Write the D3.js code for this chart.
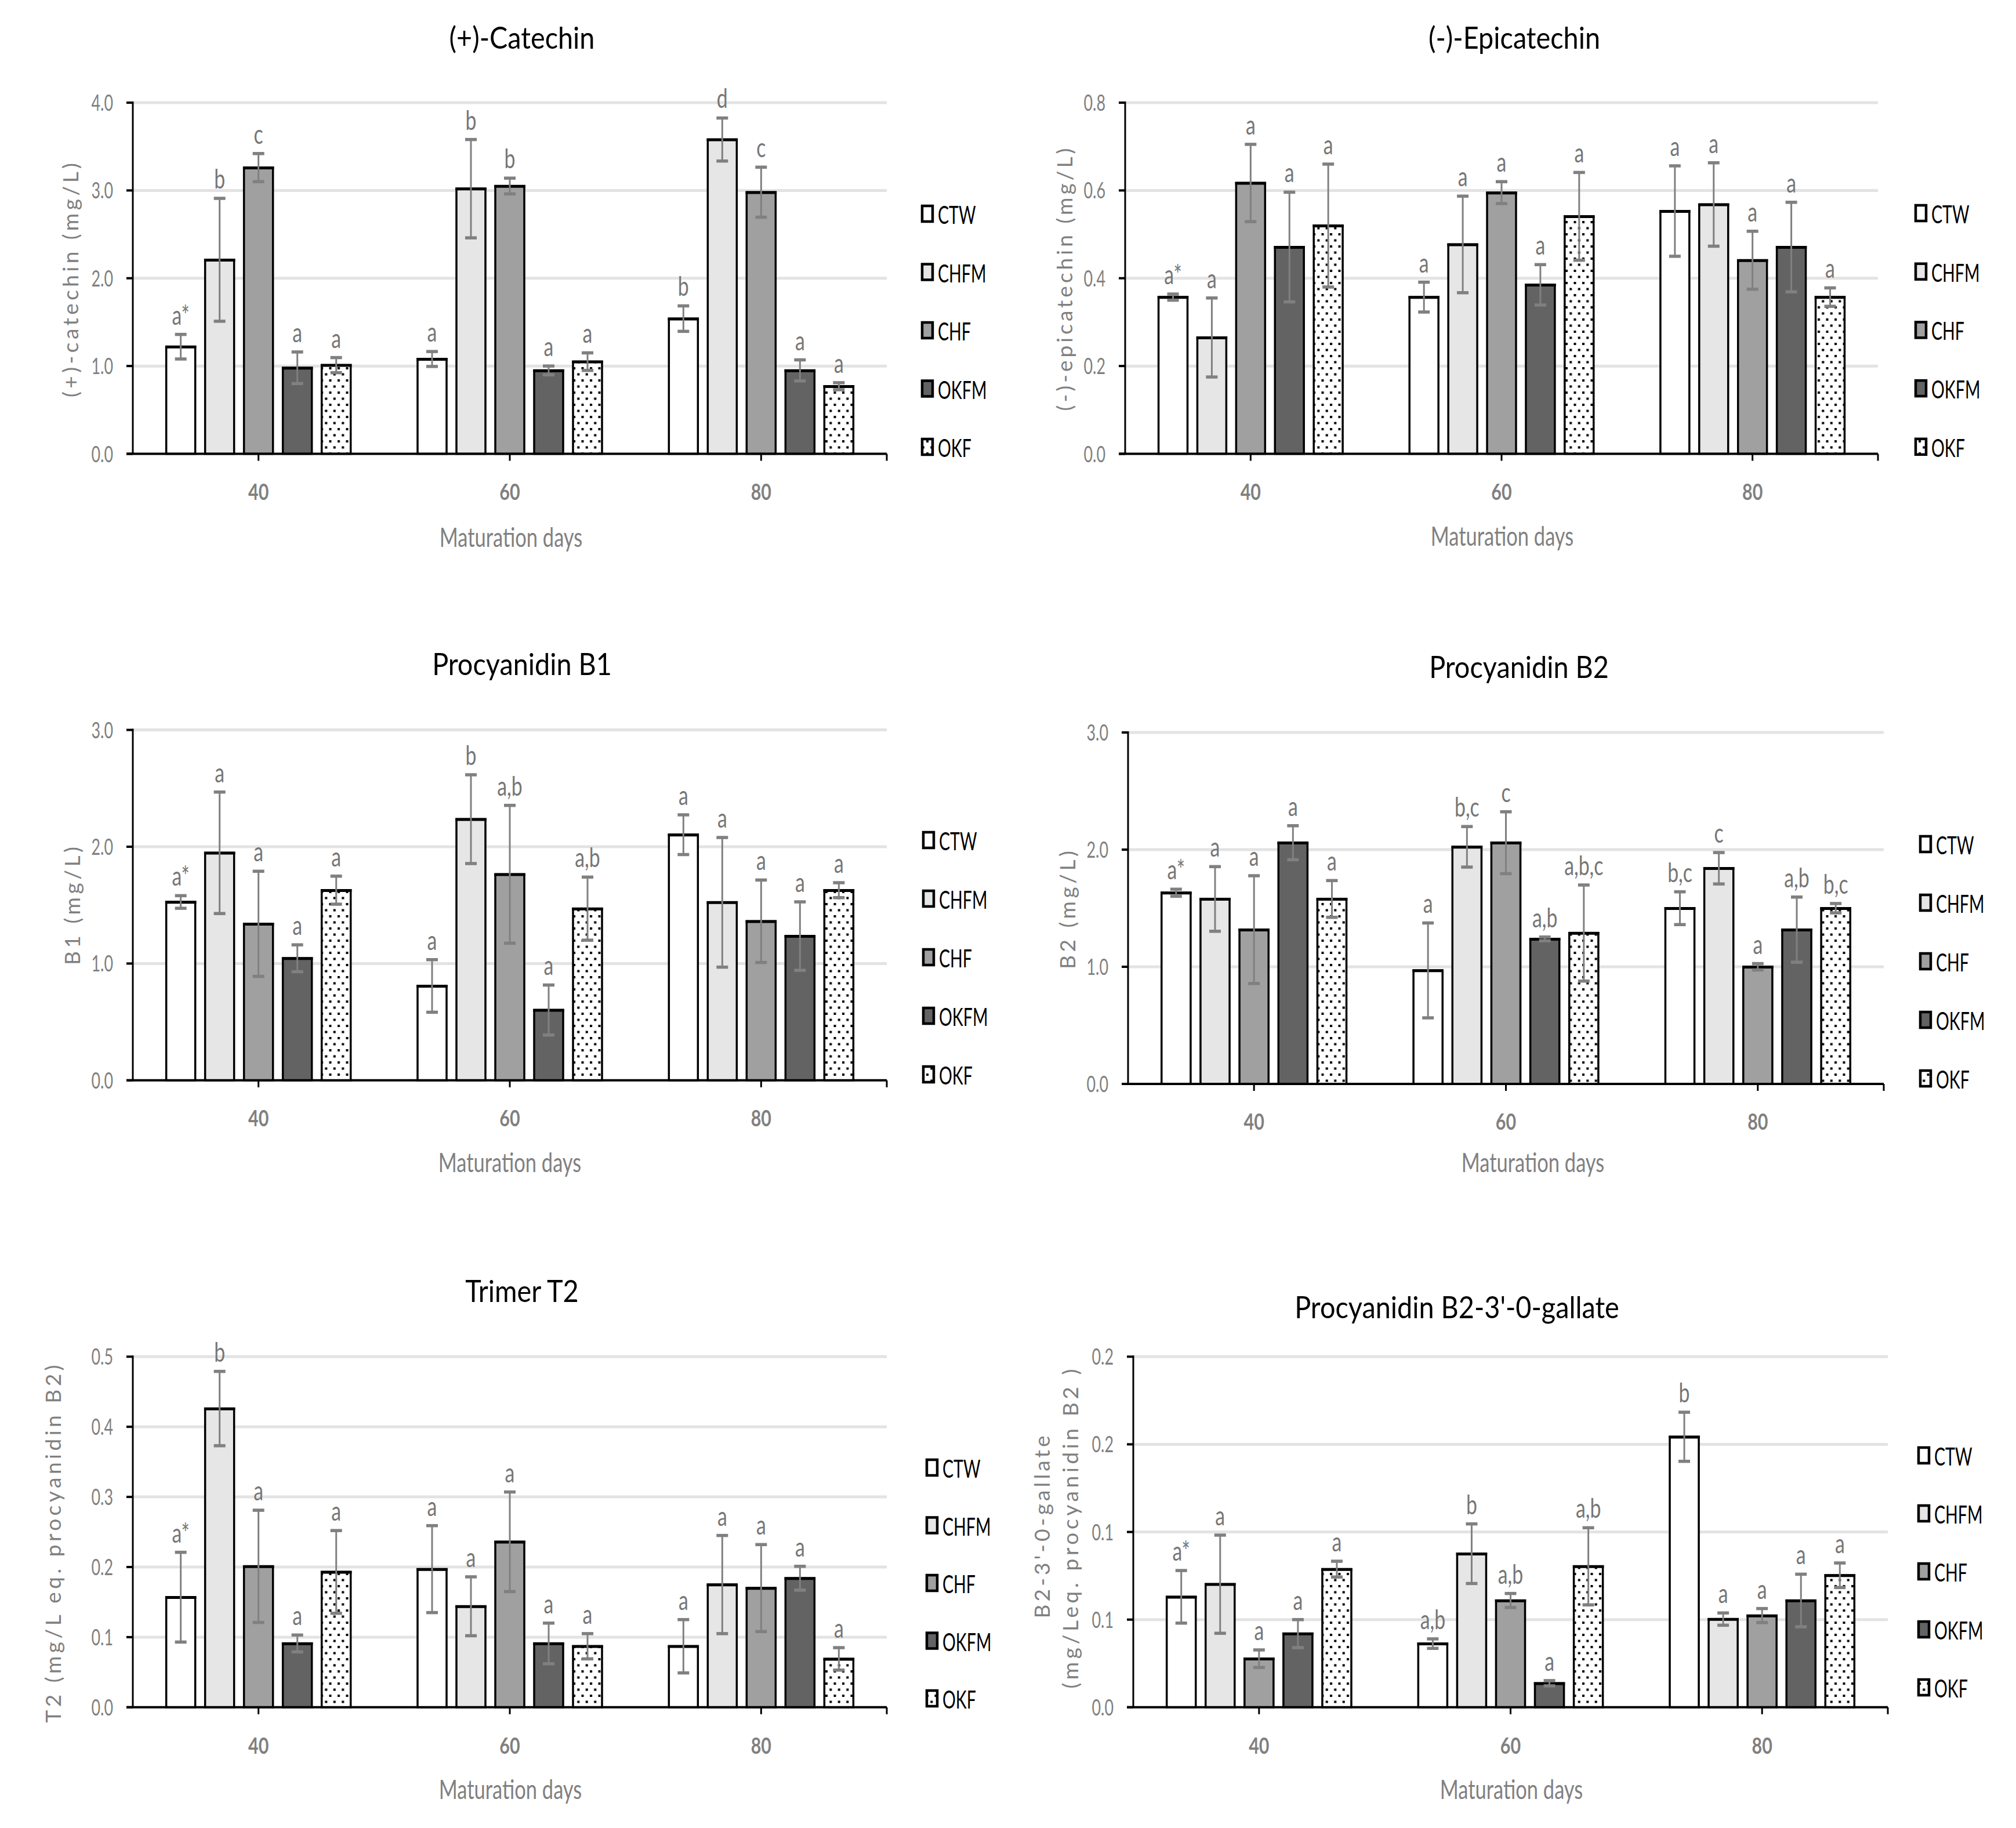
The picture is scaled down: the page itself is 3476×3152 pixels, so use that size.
<!DOCTYPE html>
<html><head><meta charset="utf-8">
<script src="https://cdn.jsdelivr.net/npm/d3@7/dist/d3.min.js"></script>
<style>body{margin:0;background:#fff} svg{display:block}</style>
</head><body>
<svg id="chart" width="3476" height="3152"></svg>
<script>
// ---------------- DATA ----------------
const categories = ["40", "60", "80"];
const seriesNames = ["CTW", "CHFM", "CHF", "OKFM", "OKF"];

// (+)-Catechin  [day][series]
const catechinMean = [[1.22, 2.21, 3.26, 0.98, 1.01], [1.08, 3.02, 3.05, 0.95, 1.05], [1.54, 3.58, 2.98, 0.95, 0.77]];
const catechinErr  = [[0.14, 0.70, 0.16, 0.18, 0.086], [0.085, 0.56, 0.09, 0.05, 0.10], [0.145, 0.245, 0.285, 0.12, 0.04]];
const catechinLetters = [["a*", "b", "c", "a", "a"], ["a", "b", "b", "a", "a"], ["b", "d", "c", "a", "a"]];
const catechinTicks = ["0.0", "1.0", "2.0", "3.0", "4.0"];

// (-)-Epicatechin
const epicatechinMean = [[0.357, 0.265, 0.617, 0.471, 0.52], [0.357, 0.477, 0.595, 0.385, 0.541], [0.553, 0.568, 0.441, 0.471, 0.357]];
const epicatechinErr  = [[0.007, 0.09, 0.088, 0.125, 0.14], [0.034, 0.11, 0.025, 0.046, 0.10], [0.103, 0.095, 0.066, 0.102, 0.021]];
const epicatechinLetters = [["a*", "a", "a", "a", "a"], ["a", "a", "a", "a", "a"], ["a", "a", "a", "a", "a"]];
const epicatechinTicks = ["0.0", "0.2", "0.4", "0.6", "0.8"];

// Procyanidin B1
const b1Mean = [[1.527, 1.948, 1.34, 1.045, 1.628], [0.808, 2.236, 1.764, 0.602, 1.47], [2.103, 1.524, 1.362, 1.235, 1.628]];
const b1Err  = [[0.054, 0.52, 0.45, 0.115, 0.12], [0.225, 0.38, 0.59, 0.214, 0.27], [0.17, 0.555, 0.353, 0.293, 0.064]];
const b1Letters = [["a*", "a", "a", "a", "a"], ["a", "b", "a,b", "a", "a,b"], ["a", "a", "a", "a", "a"]];
const b1Ticks = ["0.0", "1.0", "2.0", "3.0"];

// Procyanidin B2
const b2Mean = [[1.632, 1.579, 1.317, 2.059, 1.579], [0.969, 2.024, 2.059, 1.238, 1.288], [1.5, 1.841, 1.0, 1.317, 1.5]];
const b2Err  = [[0.03, 0.276, 0.46, 0.145, 0.157], [0.405, 0.173, 0.264, 0.016, 0.41], [0.14, 0.134, 0.027, 0.278, 0.04]];
const b2Letters = [["a*", "a", "a", "a", "a"], ["a", "b,c", "c", "a,b", "a,b,c"], ["b,c", "c", "a", "a,b", "b,c"]];
const b2Ticks = ["0.0", "1.0", "2.0", "3.0"];

// Trimer T2
const t2Mean = [[0.157, 0.426, 0.201, 0.091, 0.193], [0.197, 0.144, 0.236, 0.091, 0.087], [0.087, 0.175, 0.170, 0.184, 0.069]];
const t2Err  = [[0.064, 0.053, 0.08, 0.012, 0.059], [0.062, 0.042, 0.071, 0.029, 0.018], [0.038, 0.07, 0.062, 0.017, 0.016]];
const t2Letters = [["a*", "b", "a", "a", "a"], ["a", "a", "a", "a", "a"], ["a", "a", "a", "a", "a"]];
const t2Ticks = ["0.0", "0.1", "0.2", "0.3", "0.4", "0.5"];

// Procyanidin B2-3'-O-gallate
const b2gMean = [[0.063, 0.0702, 0.0277, 0.042, 0.0788], [0.0363, 0.0876, 0.0609, 0.0137, 0.0804], [0.1543, 0.0503, 0.0523, 0.0609, 0.0753]];
const b2gErr  = [[0.015, 0.028, 0.005, 0.008, 0.0045], [0.0027, 0.017, 0.004, 0.0015, 0.022], [0.014, 0.0035, 0.004, 0.015, 0.007]];
const b2gLetters = [["a*", "a", "a", "a", "a"], ["a,b", "b", "a,b", "a", "a,b"], ["b", "a", "a", "a", "a"]];
const b2gTicks = ["0.0", "0.1", "0.1", "0.2", "0.2"];
const b2gMax = 0.2;

// ---------------- STYLE / LAYOUT ----------------
const FONT = "Lato, 'Open Sans', sans-serif";
const fills = { CTW: "#ffffff", CHFM: "#e6e6e6", CHF: "#a0a0a0", OKFM: "#636363", OKF: "url(#dots)" };
const GRAY = "#808080";

const svg = d3.select("#chart");
const defs = svg.append("defs");
const pat = defs.append("pattern").attr("id", "dots").attr("patternUnits", "userSpaceOnUse")
  .attr("width", 14.5).attr("height", 21);
pat.append("rect").attr("width", 14.5).attr("height", 21).attr("fill", "#fff");
pat.append("rect").attr("x", 2).attr("y", 3).attr("width", 4).attr("height", 4).attr("fill", "#000");
pat.append("rect").attr("x", 9.25).attr("y", 13.5).attr("width", 4).attr("height", 4).attr("fill", "#000");

function htext(g, x, y, str, o) {
  return g.append("text")
    .attr("transform", `translate(${x},${y}) scale(${o.sx || 1},1)`)
    .attr("text-anchor", o.anchor || "middle")
    .attr("font-family", FONT)
    .attr("font-size", o.size)
    .attr("font-weight", o.weight || "normal")
    .attr("fill", o.fill || "#000")
    .text(str);
}

function vtext(g, x, y, str, o) {
  return g.append("text")
    .attr("transform", `translate(${x},${y}) rotate(-90)`)
    .attr("text-anchor", "middle")
    .attr("font-family", FONT)
    .attr("font-size", o.size)
    .attr("fill", o.fill || GRAY)
    .attr("textLength", o.len)
    .attr("lengthAdjust", "spacing")
    .text(str);
}

function drawPanel(p) {
  const g = svg.append("g");
  const n = p.tickLabels.length;
  const tickVals = d3.range(n).map(i => i * p.max / (n - 1));
  const y = d3.scaleLinear().domain([0, p.max]).range([p.y0, p.yTop]);
  const x = d3.scaleBand().domain(categories).range([p.x0, p.x1]).padding(0);
  const groupW = x.bandwidth() * 0.742;
  const xi = d3.scaleBand().domain(seriesNames).range([0, groupW]).paddingInner(0.2015).paddingOuter(0);

  // gridlines
  g.selectAll(".grid").data(tickVals.slice(1)).join("line")
    .attr("x1", p.x0).attr("x2", p.x1)
    .attr("y1", d => y(d)).attr("y2", d => y(d))
    .attr("stroke", "#e3e3e3").attr("stroke-width", 5);

  // bars
  categories.forEach((c, ci) => {
    const gx = x(c) + x.bandwidth() / 2 - groupW / 2;
    seriesNames.forEach((s, si) => {
      const v = p.mean[ci][si], e = p.err[ci][si];
      const bx = gx + xi(s), bw = xi.bandwidth();
      g.append("rect")
        .attr("x", bx + 1.75).attr("y", y(v))
        .attr("width", bw - 3.5).attr("height", p.y0 - y(v))
        .attr("fill", fills[s]).attr("stroke", "#000").attr("stroke-width", 3.5);
      g.append("line").attr("x1", bx).attr("x2", bx + bw)
        .attr("y1", y(v) + 0.5).attr("y2", y(v) + 0.5)
        .attr("stroke", "#000").attr("stroke-width", 5);
      const cx = bx + bw / 2;
      g.append("line").attr("x1", cx).attr("x2", cx)
        .attr("y1", y(v + e)).attr("y2", y(v - e))
        .attr("stroke", GRAY).attr("stroke-width", 3);
      [v + e, v - e].forEach(vv => {
        g.append("line").attr("x1", cx - 10).attr("x2", cx + 10)
          .attr("y1", y(vv)).attr("y2", y(vv))
          .attr("stroke", GRAY).attr("stroke-width", 5.5);
      });
      htext(g, cx, y(v + e) - 17, p.letters[ci][si], { size: 47, sx: 0.72, fill: "#767676" });
    });
  });

  // y axis
  g.append("line").attr("x1", p.x0).attr("x2", p.x0).attr("y1", p.yTop - 2).attr("y2", p.y0)
    .attr("stroke", "#000").attr("stroke-width", 3);
  tickVals.forEach((t, i) => {
    g.append("line").attr("x1", p.x0 - 11).attr("x2", p.x0).attr("y1", y(t)).attr("y2", y(t))
      .attr("stroke", "#000").attr("stroke-width", 4);
    htext(g, p.x0 - 34, y(t) + 14, p.tickLabels[i], { size: 39, sx: 0.69, anchor: "end", fill: GRAY });
  });
  // x axis
  g.append("line").attr("x1", p.x0 - 11).attr("x2", p.x1).attr("y1", p.y0).attr("y2", p.y0)
    .attr("stroke", "#000").attr("stroke-width", 4);
  const xt = categories.map(c => x(c) + x.bandwidth() / 2).concat([p.x1]);
  xt.forEach(tx => {
    g.append("line").attr("x1", tx).attr("x2", tx).attr("y1", p.y0).attr("y2", p.y0 + 12)
      .attr("stroke", "#000").attr("stroke-width", 3);
  });
  categories.forEach(c => {
    htext(g, x(c) + x.bandwidth() / 2, p.catY, c, { size: 39, sx: 0.78, weight: "bold", fill: GRAY });
  });
  htext(g, p.xlabX, p.xlabY, "Maturation days", { size: 46, sx: 0.75, fill: GRAY });

  // title
  htext(g, p.titleX, p.titleY, p.title, { size: 52, sx: 0.9 });

  // y label(s)
  p.ylab.forEach(l => vtext(g, l.x, l.y, l.text, { size: 37, len: l.len }));

  // legend
  seriesNames.forEach((s, si) => {
    const cy = p.legY + si * p.legStep;
    g.append("rect").attr("x", p.legX + 2).attr("y", cy - 16).attr("width", 18).attr("height", 27)
      .attr("fill", fills[s]).attr("stroke", "#000").attr("stroke-width", 4.5);
    htext(g, p.legX + 29, cy + 15, s, { size: 42, sx: 0.68, anchor: "start" });
  });
}

drawPanel({ mean: catechinMean, err: catechinErr, letters: catechinLetters, tickLabels: catechinTicks, max: 4,
  x0: 229, x1: 1529, yTop: 177, y0: 782.5, catY: 862, xlabX: 881, xlabY: 943,
  title: "(+)-Catechin", titleX: 900, titleY: 84,
  ylab: [{ x: 135, y: 483, text: "(+)-catechin (mg/L)", len: 404 }],
  legX: 1588, legY: 371, legStep: 100.5 });

drawPanel({ mean: epicatechinMean, err: epicatechinErr, letters: epicatechinLetters, tickLabels: epicatechinTicks, max: 0.8,
  x0: 1940, x1: 3238, yTop: 177, y0: 782.5, catY: 862, xlabX: 2590, xlabY: 941,
  title: "(-)-Epicatechin", titleX: 2611, titleY: 84,
  ylab: [{ x: 1849, y: 482, text: "(-)-epicatechin (mg/L)", len: 453 }],
  legX: 3301, legY: 370, legStep: 100.7 });

drawPanel({ mean: b1Mean, err: b1Err, letters: b1Letters, tickLabels: b1Ticks, max: 3,
  x0: 229, x1: 1529, yTop: 1258.6, y0: 1862.8, catY: 1942, xlabX: 879, xlabY: 2021,
  title: "Procyanidin B1", titleX: 900, titleY: 1164,
  ylab: [{ x: 138, y: 1562, text: "B1 (mg/L)", len: 204 }],
  legX: 1590, legY: 1451, legStep: 101 });

drawPanel({ mean: b2Mean, err: b2Err, letters: b2Letters, tickLabels: b2Ticks, max: 3,
  x0: 1945, x1: 3248, yTop: 1263, y0: 1869, catY: 1948, xlabX: 2643, xlabY: 2021,
  title: "Procyanidin B2", titleX: 2619, titleY: 1169,
  ylab: [{ x: 1854, y: 1569, text: "B2 (mg/L)", len: 204 }],
  legX: 3309, legY: 1458, legStep: 101 });

drawPanel({ mean: t2Mean, err: t2Err, letters: t2Letters, tickLabels: t2Ticks, max: 0.5,
  x0: 229, x1: 1529, yTop: 2339.3, y0: 2943.8, catY: 3024, xlabX: 880, xlabY: 3102,
  title: "Trimer T2", titleX: 900, titleY: 2245,
  ylab: [{ x: 105, y: 2662, text: "T2 (mg/L eq. procyanidin B2)", len: 617 }],
  legX: 1596, legY: 2533, legStep: 99.5 });

drawPanel({ mean: b2gMean, err: b2gErr, letters: b2gLetters, tickLabels: b2gTicks, max: b2gMax,
  x0: 1954, x1: 3255, yTop: 2339.3, y0: 2943.8, catY: 3024, xlabX: 2606, xlabY: 3102,
  title: "Procyanidin B2-3'-0-gallate", titleX: 2512, titleY: 2273,
  ylab: [{ x: 1810, y: 2633, text: "B2-3'-0-gallate", len: 315 },
         { x: 1859, y: 2636, text: "(mg/Leq. procyanidin B2 )", len: 551 }],
  legX: 3306, legY: 2512, legStep: 100 });
</script>
</body></html>
